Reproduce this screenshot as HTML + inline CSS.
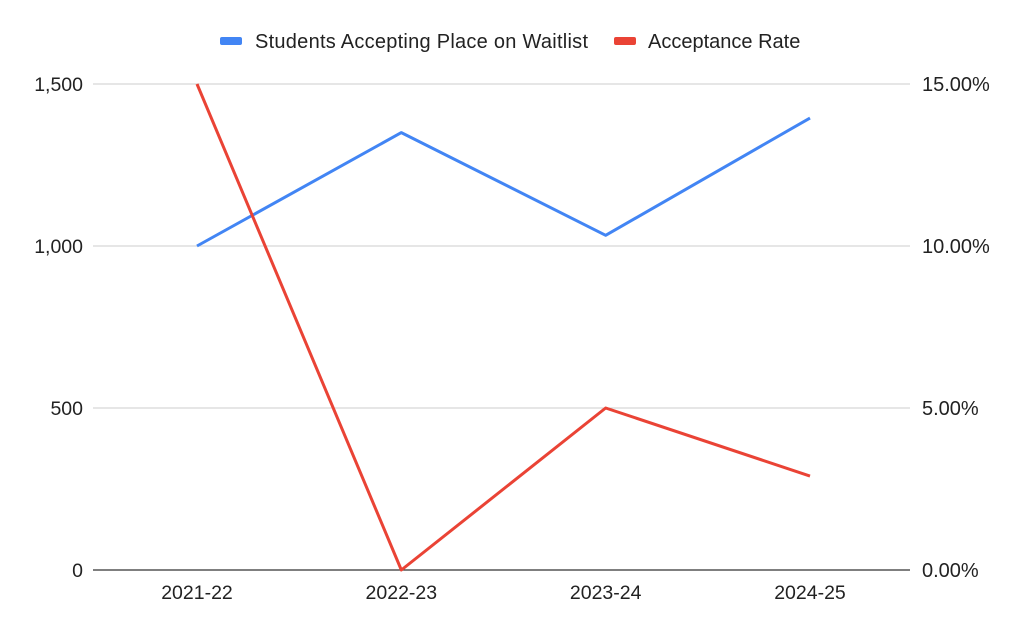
<!DOCTYPE html>
<html><head><meta charset="utf-8"><style>
body{margin:0;background:#fff;font-family:"Liberation Sans",Arial,sans-serif}
svg text{font-family:"Liberation Sans",Arial,sans-serif;fill:#222}
</style></head><body>
<svg id="chart" width="1024" height="633" viewBox="0 0 1024 633">
<g id="legend">
<g><rect x="220" y="37" width="22" height="8" rx="2" fill="#4285f4"/><text x="255" y="48" font-size="20" textLength="333">Students Accepting Place on Waitlist</text></g>
<g><rect x="614" y="37" width="22" height="8" rx="2" fill="#ea4335"/><text x="648" y="48" font-size="20">Acceptance Rate</text></g>
</g>
<g id="grid"></g>
<g id="axes"></g>
<g id="series"></g>
</svg>
<script>
const categories=["2021-22","2022-23","2023-24","2024-25"];
const waitlistValues=[1000,1350,1033,1395];
const acceptanceRates=[15.0,0.0,5.0,2.9];
const leftTicks=[0,500,1000,1500];
const leftTickLabels=["0","500","1,000","1,500"];
const rightTicks=[0,5,10,15];
const rightTickLabels=["0.00%","5.00%","10.00%","15.00%"];
const NS="http://www.w3.org/2000/svg";
const X0=93,X1=910,Y0=570,Y1=84;
const xs=i=>197+i*(810-197)/(categories.length-1);
const yl=v=>Y0-(v/1500)*(Y0-Y1);
const yr=v=>Y0-(v/15)*(Y0-Y1);
function mk(tag,attrs,parent){const e=document.createElementNS(NS,tag);for(const k in attrs)e.setAttribute(k,attrs[k]);parent.appendChild(e);return e;}
const grid=document.getElementById('grid'),axes=document.getElementById('axes'),series=document.getElementById('series');
leftTicks.forEach((t,i)=>{
 const y=yl(t);
 const l=mk('line',{x1:X0,x2:X1,y1:y,y2:y,stroke:t===0?'#333':'#ccc','stroke-width':t===0?1.3:1},grid);
 
 
 const tx=mk('text',{x:83,y:y+7,'font-size':19.5,'text-anchor':'end'},axes);tx.textContent=leftTickLabels[i];
 
 
});
rightTicks.forEach((t,i)=>{
 const tx=mk('text',{x:922,y:yr(t)+7,'font-size':20},axes);tx.textContent=rightTickLabels[i];
 
 
});
categories.forEach((c,i)=>{
 const tx=mk('text',{x:xs(i),y:599,'font-size':19.5,'text-anchor':'middle'},axes);tx.textContent=c;
 
 
});
const p1=mk('polyline',{points:waitlistValues.map((v,i)=>xs(i)+','+yl(v)).join(' '),fill:'none',stroke:'#4285f4','stroke-width':3,'stroke-linejoin':'round'},series);


const p2=mk('polyline',{points:acceptanceRates.map((v,i)=>xs(i)+','+yr(v)).join(' '),fill:'none',stroke:'#ea4335','stroke-width':3,'stroke-linejoin':'round'},series);


</script>
</body></html>
